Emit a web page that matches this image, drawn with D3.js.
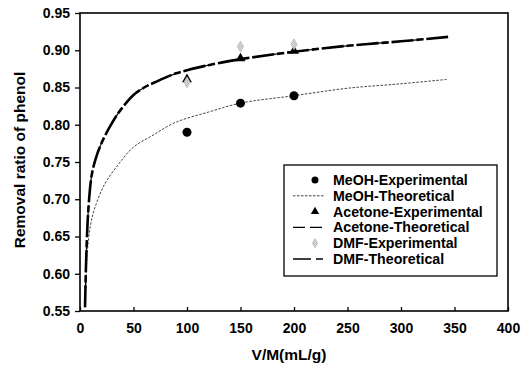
<!DOCTYPE html>
<html>
<head>
<meta charset="utf-8">
<script src="https://cdn.jsdelivr.net/npm/d3@7"></script>
<style>
  body { margin: 0; background: #fff; }
  text { font-family: "Liberation Sans", Arial, sans-serif; font-weight: bold; fill: #000; }
</style>
</head>
<body>
<div id="chart"></div>
<script>
// experimental points (V/M, removal ratio)
const expX = [100, 150, 200]
const meohExp = [0.790, 0.829, 0.839]
const acetoneExp = [0.861, 0.889, 0.899]
const dmfExp = [0.857, 0.905, 0.908]

// theoretical curves
const meohTheoX = [5.5, 6.3, 9.4, 14, 23, 36, 50, 67, 89, 120, 150, 200, 250, 300, 344]
const meohTheoY = [0.58, 0.617, 0.662, 0.689, 0.72, 0.747, 0.77, 0.785, 0.803, 0.817, 0.829, 0.839, 0.849, 0.855, 0.861]
const dmfTheoX = [4.7, 6, 8, 11, 15, 20, 27, 35, 43, 50, 60, 70, 90, 120, 150, 200, 250, 300, 344]
const dmfTheoY = [0.555, 0.63, 0.69, 0.733, 0.756, 0.775, 0.795, 0.814, 0.829, 0.84, 0.85, 0.857, 0.869, 0.880, 0.888, 0.898, 0.906, 0.912, 0.918]
const acetoneTheoY = dmfTheoY // the two curves coincide in the picture

const xTicks = [0, 50, 100, 150, 200, 250, 300, 350, 400]
const yTicks = [0.55, 0.60, 0.65, 0.70, 0.75, 0.80, 0.85, 0.90, 0.95]
const legendLabels = ["MeOH-Experimental", "MeOH-Theoretical", "Acetone-Experimental",
                      "Acetone-Theoretical", "DMF-Experimental", "DMF-Theoretical"]

const width = 532, height = 367
const margin = {top: 13, right: 24, bottom: 56, left: 80}

const svg = d3.select("#chart").append("svg")
  .attr("width", width).attr("height", height)

// diamond fill pattern (light checker, like the scan)
const defs = svg.append("defs")
const pat = defs.append("pattern").attr("id", "chk")
  .attr("width", 2).attr("height", 2).attr("patternUnits", "userSpaceOnUse")
pat.append("rect").attr("width", 2).attr("height", 2).attr("fill", "#eee")
pat.append("rect").attr("width", 1).attr("height", 1).attr("fill", "#aaa")
pat.append("rect").attr("x", 1).attr("y", 1).attr("width", 1).attr("height", 1).attr("fill", "#aaa")

const x = d3.scaleLinear().domain([0, 400]).range([margin.left, width - margin.right])
const y = d3.scaleLinear().domain([0.55, 0.95]).range([height - margin.bottom, margin.top])

const g = svg.append("g")

// y axis, ticks outward
g.append("g")
  .attr("transform", `translate(${margin.left},0)`)
  .call(d3.axisLeft(y).tickValues(yTicks).tickFormat(d3.format(".2f")).tickSize(5).tickPadding(5))
  .call(a => a.select(".domain").remove())
  .call(a => a.selectAll("line").attr("stroke", "#000").attr("stroke-width", 1.3))
  .call(a => a.selectAll("text").attr("font-size", 14).attr("font-family", null))

// x axis, ticks pointing in
g.append("g")
  .attr("transform", `translate(0,${height - margin.bottom})`)
  .call(d3.axisBottom(x).tickValues(xTicks).tickSize(-4).tickPadding(12))
  .call(a => a.select(".domain").remove())
  .call(a => a.selectAll("line").attr("stroke", "#000").attr("stroke-width", 1.3))
  .call(a => a.selectAll("text").attr("font-size", 14).attr("font-family", null))

// plot frame
g.append("rect")
  .attr("x", x(0)).attr("y", y(0.95))
  .attr("width", x(400) - x(0)).attr("height", y(0.55) - y(0.95))
  .attr("fill", "none").attr("stroke", "#000").attr("stroke-width", 1.6)

// axis titles
svg.append("text")
  .attr("x", 289).attr("y", 360)
  .attr("text-anchor", "middle").attr("font-size", 15.5)
  .text("V/M(mL/g)")
svg.append("text")
  .attr("transform", "translate(25,160) rotate(-90)")
  .attr("text-anchor", "middle").attr("font-size", 15.5)
  .text("Removal ratio of phenol")

const line = d3.line().x(d => x(d[0])).y(d => y(d[1])).curve(d3.curveCatmullRom.alpha(0.5))

// theoretical curves (acetone & DMF share a path, so keep their gaps in phase)
g.append("path")
  .datum(d3.zip(meohTheoX, meohTheoY))
  .attr("d", line).attr("fill", "none")
  .attr("stroke", "#444").attr("stroke-width", 1).attr("stroke-dasharray", "2.5,1.5")
g.append("path")
  .datum(d3.zip(dmfTheoX, acetoneTheoY))
  .attr("d", line).attr("fill", "none")
  .attr("stroke", "#000").attr("stroke-width", 1.2).attr("stroke-dasharray", "12,3,17,3")
g.append("path")
  .datum(d3.zip(dmfTheoX, dmfTheoY))
  .attr("d", line).attr("fill", "none")
  .attr("stroke", "#000").attr("stroke-width", 2.6).attr("stroke-dasharray", "22,3,7,3")

// markers
const tri = d3.symbol().type(d3.symbolTriangle).size(42)
const dia = d3.symbol().type(d3.symbolDiamond).size(34)

g.selectAll(".meoh").data(d3.zip(expX, meohExp)).join("circle")
  .attr("cx", d => x(d[0])).attr("cy", d => y(d[1])).attr("r", 4.5).attr("fill", "#000")
g.selectAll(".acet").data(d3.zip(expX, acetoneExp)).join("path")
  .attr("transform", d => `translate(${x(d[0])},${y(d[1])})`).attr("d", tri).attr("fill", "#000")
g.selectAll(".dmf").data(d3.zip(expX, dmfExp)).join("path")
  .attr("transform", d => `translate(${x(d[0])},${y(d[1])})`).attr("d", dia)
  .attr("fill", "url(#chk)").attr("stroke", "#bbb").attr("stroke-width", 0.8)

// legend
const lg = svg.append("g").attr("transform", "translate(284,165)")
lg.append("rect").attr("width", 213).attr("height", 111)
  .attr("fill", "#fff").attr("stroke", "#000").attr("stroke-width", 1.3)
const rowY = i => 15 + i * 15.8
const symX = 31
legendLabels.forEach((lab, i) => {
  lg.append("text").attr("x", 49).attr("y", rowY(i) + 5).attr("font-size", 14.2).text(lab)
})
lg.append("circle").attr("cx", symX).attr("cy", rowY(0)).attr("r", 3.5).attr("fill", "#000")
lg.append("line").attr("x1", 9).attr("x2", 40).attr("y1", rowY(1)).attr("y2", rowY(1))
  .attr("stroke", "#444").attr("stroke-width", 1).attr("stroke-dasharray", "2.5,1.5")
lg.append("path").attr("transform", `translate(${symX},${rowY(2)})`)
  .attr("d", d3.symbol().type(d3.symbolTriangle).size(30)).attr("fill", "#000")
lg.append("line").attr("x1", 9).attr("x2", 40).attr("y1", rowY(3)).attr("y2", rowY(3))
  .attr("stroke", "#000").attr("stroke-width", 1.2).attr("stroke-dasharray", "12,5")
lg.append("path").attr("transform", `translate(${symX},${rowY(4)})`)
  .attr("d", d3.symbol().type(d3.symbolDiamond).size(24))
  .attr("fill", "url(#chk)").attr("stroke", "#bbb").attr("stroke-width", 0.8)
lg.append("line").attr("x1", 9).attr("x2", 40).attr("y1", rowY(5)).attr("y2", rowY(5))
  .attr("stroke", "#000").attr("stroke-width", 1.6).attr("stroke-dasharray", "18,5,7,5")
</script>
</body>
</html>
